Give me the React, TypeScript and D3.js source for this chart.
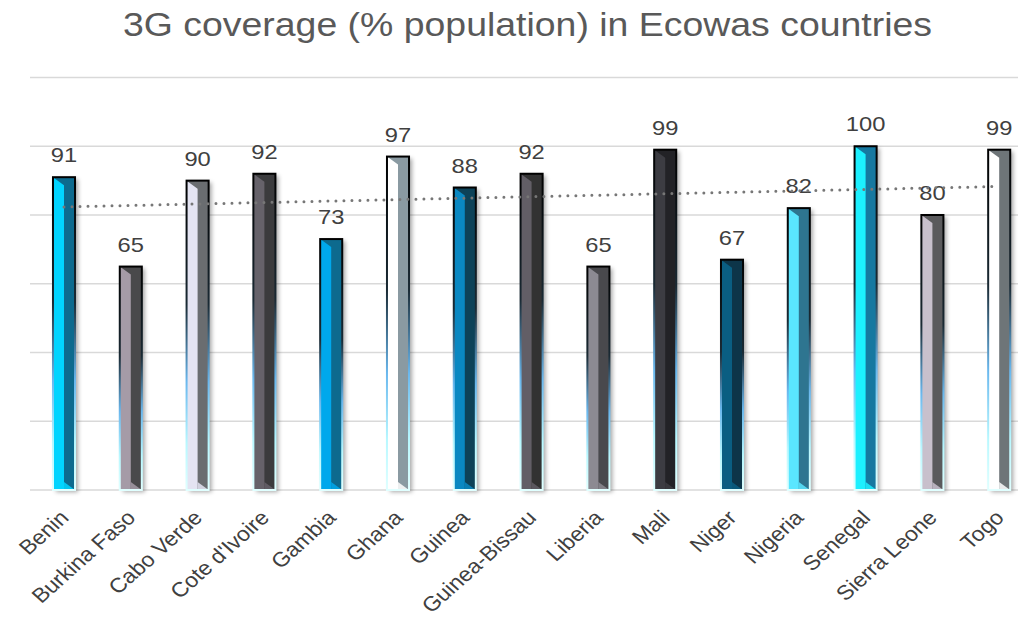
import React from 'react';
import * as d3 from 'd3';

const countries = ['Benin', 'Burkina Faso', 'Cabo Verde', "Cote d'Ivoire", 'Gambia', 'Ghana', 'Guinea',
  'Guinea-Bissau', 'Liberia', 'Mali', 'Niger', 'Nigeria', 'Senegal', 'Sierra Leone', 'Togo'];
const coverage = [91, 65, 90, 92, 73, 97, 88, 92, 65, 99, 67, 82, 100, 80, 99];
// left (lit) face and right (shaded) face of each bar
const lightFaces = ['#00d4ff', '#a59ba7', '#e4e4f2', '#66626a', '#00a8ec', '#ffffff', '#0a88c2', '#625e66',
  '#8c8a92', '#3c3c42', '#0a5e82', '#5ae6ff', '#1cf0ff', '#c8c0cc', '#ffffff'];
const darkFaces = ['#0c6a8e', '#4a4a4c', '#6a6d70', '#3a3a3e', '#0c6a8e', '#8a9aa2', '#0c4258', '#303032',
  '#4a4a4e', '#222226', '#0a3448', '#2e7490', '#1478a0', '#5a5a5c', '#6e7478'];
const yTicks = [0, 20, 40, 60, 80, 100, 120];

const W = 1018, H = 626;
const baseY = 490;
const sx = 1.13; // the source text looks slightly stretched sideways

export default function App() {
  const x = d3.scaleBand<string>().domain(countries).range([30.6, 1032.6]).paddingInner(0.67).paddingOuter(0.335);
  const y = d3.scaleLinear().domain([0, 120]).range([baseY, 77.5]);
  const bw = x.bandwidth();

  // linear trend line
  const idx = coverage.map((_, i) => i);
  const mx = d3.mean(idx) as number, my = d3.mean(coverage) as number;
  const slope = d3.sum(idx, i => (i - mx) * (coverage[i] - my)) / d3.sum(idx, i => (i - mx) ** 2);
  const trend = (i: number) => my + slope * (i - mx);
  const cx = (c: string) => (x(c) as number) + bw / 2;
  const line = d3.line<number>().x(i => cx(countries[i])).y(i => y(trend(i)));

  return (
    <svg width={W} height={H} style={{ position: 'absolute', left: 0, top: 0, background: '#fff' }}
      fontFamily="'Liberation Sans', Arial, sans-serif">
      <defs>
        <linearGradient id="edge" x1="0" y1="0" x2="0" y2="1">
          <stop offset="0" stopColor="#000" />
          <stop offset="0.4" stopColor="#1a2a34" />
          <stop offset="0.65" stopColor="#6ab8ee" />
          <stop offset="0.85" stopColor="#b8f8ff" />
          <stop offset="1" stopColor="#e0ffff" />
        </linearGradient>
        <filter id="shadow" x="-50%" y="-10%" width="200%" height="130%">
          <feDropShadow dx="3" dy="2" stdDeviation="2" floodColor="#000" floodOpacity="0.35" />
        </filter>
      </defs>
      <text x={123} y={36} fontSize={33} fill="#595959" textLength={809} lengthAdjust="spacingAndGlyphs">
        3G coverage (% population) in Ecowas countries
      </text>
      {yTicks.map(t => (
        <line key={t} x1={30} x2={W} y1={y(t)} y2={y(t)} stroke="#d9d9d9" strokeWidth={1.5} />
      ))}
      {countries.map((c, i) => {
        const x0 = x(c) as number;
        const y0 = y(coverage[i]);
        const xm = x0 + bw / 2;
        const d = 8;
        return (
          <g key={c}>
            <rect x={x0} y={y0} width={bw} height={baseY - y0} fill={darkFaces[i]} filter="url(#shadow)" />
            <polygon points={`${x0},${y0} ${xm},${y0 + d} ${xm},${baseY} ${x0},${baseY}`} fill={lightFaces[i]} />
            <polygon points={`${xm},${baseY - d} ${x0 + bw},${baseY} ${xm},${baseY}`} fill={lightFaces[i]} opacity={0.85} />
            <rect x={x0} y={y0} width={bw} height={baseY - y0} fill="none" stroke="url(#edge)" strokeWidth={2} />
            <text transform={`translate(${xm},${y0 - 15}) scale(${sx},1)`} textAnchor="middle" fontSize={21} fill="#404040">
              {coverage[i]}
            </text>
          </g>
        );
      })}
      <path d={line(idx) as string} fill="none" stroke="#777" strokeWidth={3} strokeLinecap="round" strokeDasharray="0 8" />
      {countries.map(c => (
        <text key={c} transform={`translate(${cx(c) + 6},${519}) scale(1.12,1) rotate(-45)`} textAnchor="end"
          fontSize={20.5} fill="#404040">
          {c}
        </text>
      ))}
    </svg>
  );
}
